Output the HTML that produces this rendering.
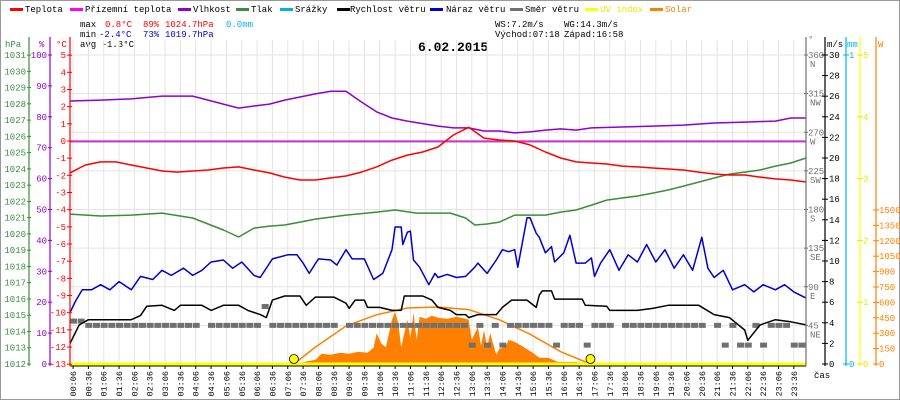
<!DOCTYPE html>
<html><head><meta charset="utf-8">
<style>
html,body{margin:0;padding:0;background:#fff;}
svg{display:block;font-family:"Liberation Mono",monospace;font-size:9px;}
</style></head>
<body>
<svg id="chart" width="900" height="400" viewBox="0 0 900 400" xmlns="http://www.w3.org/2000/svg">
<rect x="0.5" y="0.5" width="899" height="399" fill="#fff" stroke="#999"/>
<g>
 <g><rect x="10" y="8" width="13" height="3" fill="#ff0000"/><text x="25" y="12">Teplota</text></g>
 <g><rect x="70" y="8" width="13" height="3" fill="#ff00ff"/><text x="85" y="12">Přízemní teplota</text></g>
 <g><rect x="178" y="8" width="13" height="3" fill="#9000d0"/><text x="193" y="12">Vlhkost</text></g>
 <g><rect x="236" y="8" width="13" height="3" fill="#3a8e3a"/><text x="251" y="12">Tlak</text></g>
 <g><rect x="280" y="8" width="13" height="3" fill="#00b0f0"/><text x="295" y="12">Srážky</text></g>
 <g><rect x="337" y="8" width="13" height="3" fill="#000"/><text x="350" y="12">Rychlost větru</text></g>
 <g><rect x="430" y="8" width="13" height="3" fill="#0000d0"/><text x="446" y="12">Náraz větru</text></g>
 <g><rect x="510" y="8" width="13" height="3" fill="#707070"/><text x="525" y="12">Směr větru</text></g>
 <g><rect x="585" y="8" width="13" height="3" fill="#ffff00"/><text x="600" y="12" fill="#e8e800">UV index</text></g>
 <g><rect x="650" y="8" width="13" height="3" fill="#ff8000"/><text x="665" y="12" fill="#ff8000">Solar</text></g>
</g>
<g>
 <text x="80" y="27">max</text><text x="105" y="27" fill="#ff0000">0.8°C</text><text x="143" y="27" fill="#ff0000">89%</text><text x="165" y="27" fill="#ff0000">1024.7hPa</text><text x="226" y="27" fill="#00b0f0">0.0mm</text>
 <text x="80" y="37">min</text><text x="99" y="37" fill="#0000d0">-2.4°C</text><text x="143" y="37" fill="#0000d0">73%</text><text x="165" y="37" fill="#0000d0">1019.7hPa</text>
 <text x="80" y="47">avg -1.3°C</text>
 <text x="495" y="27">WS:7.2m/s</text><text x="564" y="27">WG:14.3m/s</text>
 <text x="495" y="37">Východ:07:18</text><text x="564" y="37">Západ:16:58</text>
</g>
<text x="418" y="51" font-family="Liberation Mono, monospace" font-weight="bold" font-size="13">6.02.2015</text>
<g id="grid"></g>
<g id="plot"></g>
<g id="axes"></g>
</svg>
<script>
// ---- data ----
const tempHours = [0,0.5,1,1.5,2,2.5,3,3.5,4,4.5,5,5.5,6,6.5,7,7.5,8,8.5,9,9.5,10,10.5,11,11.5,12,12.5,13,13.5,14,14.5,15,15.5,16,16.5,17,17.5,18,18.5,19,19.5,20,20.5,21,21.5,22,22.5,23,23.5,24];
const tempValues = [-1.86,-1.40,-1.22,-1.22,-1.40,-1.57,-1.75,-1.81,-1.75,-1.69,-1.57,-1.51,-1.69,-1.86,-2.10,-2.27,-2.27,-2.15,-2.04,-1.81,-1.51,-1.11,-0.82,-0.64,-0.35,0.35,0.8,0.17,0.06,0,-0.23,-0.64,-0.99,-1.22,-1.28,-1.34,-1.46,-1.51,-1.57,-1.63,-1.69,-1.81,-1.92,-1.98,-1.98,-2.10,-2.21,-2.27,-2.39];
const apparentHours = [0,24];
const apparentValues = [0,0];
const humHours = [0,1,2,3,4,5,5.5,6,6.5,7,7.5,8,8.5,9,9.5,10,10.5,11,12,12.5,13,13.5,14,14.5,15,15.5,16,16.5,17,18,19,20,21,22,23,23.5,24];
const humValues = [85.1,85.4,85.8,86.7,86.7,84.1,82.8,83.5,84.1,85.4,86.4,87.4,88.3,88.3,84.8,81.6,79.6,78.6,77.0,76.4,76.4,75.4,75.4,74.8,75.1,75.7,76.1,75.7,76.4,76.7,77.0,77.3,78.0,78.3,78.6,79.6,79.6];
const presHours = [0,1,2,3,4,5,5.5,6,6.5,7,7.5,8,9,10,10.6,11.3,12.4,12.9,13.2,13.6,14,14.5,15,15.5,16,16.5,17,17.5,18,18.5,19,19.5,20,20.5,21,21.5,22,22.5,23,23.5,24];
const presValues = [1021.22,1021.10,1021.16,1021.28,1020.98,1020.24,1019.81,1020.36,1020.48,1020.55,1020.73,1020.91,1021.16,1021.34,1021.47,1021.28,1021.28,1020.98,1020.55,1020.61,1020.73,1021.16,1021.16,1021.16,1021.34,1021.47,1021.77,1022.08,1022.21,1022.33,1022.51,1022.70,1022.94,1023.19,1023.44,1023.68,1023.80,1023.93,1024.17,1024.36,1024.67];
const gustHours = [0,0.2,0.4,0.7,1,1.3,1.6,2,2.3,2.7,3,3.3,3.7,4,4.3,4.6,5,5.3,5.6,6,6.2,6.6,7.1,7.4,7.6,7.8,8.1,8.5,8.7,9,9.2,9.6,9.9,10.2,10.5,10.6,10.8,10.85,11,11.1,11.2,11.4,11.7,11.9,12,12.3,12.6,12.9,13.2,13.3,13.6,13.9,14.1,14.3,14.5,14.6,14.9,15,15.2,15.3,15.5,15.7,15.8,16.1,16.3,16.5,16.8,17,17.1,17.3,17.6,17.9,18.2,18.5,18.8,19.1,19.4,19.7,20,20.3,20.6,20.8,21,21.3,21.6,22,22.3,22.6,23,23.3,23.6,24];
const gustValues = [5.0,6.2,7.2,7.2,7.7,7.2,8.0,7.2,8.5,8.2,9.1,8.6,9.3,8.6,9.1,9.9,10.1,9.3,9.9,8.6,8.4,10.2,10.6,10.6,9.8,8.8,10.2,10.1,9.6,11.1,10.2,10.2,8.2,8.8,11.1,13.3,13.3,11.6,12.8,12.9,10.1,9.4,7.7,8.8,8.4,8.7,8.4,8.5,9.4,9.8,8.8,10.1,11.1,10.9,11.1,9.4,14.2,14.2,12.7,12.3,10.8,11.4,9.9,10.8,12.5,9.8,9.8,10.3,8.5,9.8,11.1,9.1,10.6,9.9,11.6,9.9,11.1,9.3,10.6,9.1,12.3,9.3,8.4,9.1,7.2,7.7,7.0,7.7,7.2,7.7,7.0,6.4];
const windHours = [0,0.3,0.6,2,2.3,2.5,3,3.4,3.6,4.3,4.6,5,5.5,5.8,6.0,6.2,6.4,6.6,7.0,7.5,7.7,8.0,8.6,9.0,9.1,9.3,9.6,9.7,10.1,10.5,10.8,10.9,11.5,11.8,12.0,12.4,12.6,12.9,13.0,13.3,13.9,14.1,14.4,14.9,15.2,15.3,15.4,15.7,15.8,16.7,16.8,17.5,17.6,18.5,19,19.5,20.5,21,21.5,22,22.1,22.5,23,23.5,24];
const windValues = [2.0,3.8,4.3,4.3,4.7,5.6,5.7,5.2,5.7,5.7,5.2,5.7,5.7,5.2,5.0,4.8,4.5,6.2,6.6,6.6,5.7,6.5,6.5,5.9,5.4,6.2,6.2,5.5,5.5,5.2,5.2,6.6,6.6,6.2,5.5,5.2,4.8,4.8,4.5,4.8,4.8,5.5,6.2,6.2,5.5,6.7,7.1,7.1,6.3,6.3,5.7,5.6,5.2,5.2,5.4,5.7,5.7,4.8,4.5,3.3,2.3,3.8,4.3,4.1,3.8];
const dirValues = [50,50,45,45,45,45,45,45, 45,45,45,45,45,45,45,45, 45,null,45,45,45,45,45,45, 45,67,45,45,45,45,45,45, 45,45,45,null,45,45,45,45, 45,45,45,45,45,45,45,45, 45,45,45,45,22,45,22,45, 22,45,45,45,45,45,45,22, 45,45,45,22,45,45,45,null, 45,45,45,45,45,45,45,45, 45,45,45,null,45,22,45,22, 22,45,22,45,45,45,22,22];
const solarHours = [7.3,7.5,7.8,8.0,8.2,8.5,8.8,9.1,9.4,9.7,9.9,10.0,10.15,10.3,10.5,10.6,10.7,10.8,10.9,11.0,11.1,11.2,11.3,11.4,11.6,11.8,12.0,12.3,12.6,12.9,13.0,13.1,13.3,13.4,13.5,13.6,13.7,13.9,14.0,14.2,14.3,14.5,14.8,15.1,15.3,15.6,15.9,16.5,16.9];
const solarValues = [0,10,30,40,100,90,110,100,120,110,160,300,200,165,430,510,400,165,300,430,250,500,235,460,440,470,450,440,460,440,430,235,360,180,330,165,300,90,150,165,235,215,165,107,60,60,20,20,0];
const solarMaxHours = [7.3,8,9,10,11,12,13,14,15,16,16.97];
const solarMaxValues = [0,165,370,480,545,555,530,430,290,120,0];
const uvHours = [0,24];
const uvValues = [0,0];
const sunEvents = [7.3,16.97];
const hpaTicks = [1012,1013,1014,1015,1016,1017,1018,1019,1020,1021,1022,1023,1024,1025,1026,1027,1028,1029,1030,1031];
const humTicks = [0,10,20,30,40,50,60,70,80,90,100];
const tempTicks = [-13,-12,-11,-10,-9,-8,-7,-6,-5,-4,-3,-2,-1,0,1,2,3,4,5];
const dirTicks = [45,90,135,180,225,270,315,360];
const dirNames = ['NE','E','SE','S','SW','W','NW','N'];
const msTicks = [0,2,4,6,8,10,12,14,16,18,20,22,24,26,28,30];
const mmTicks = [0,1];
const uvTicks = [0,1,2,3,4,5];
const wTicks = [0,150,300,450,600,750,900,1050,1200,1350,1500];

// ---- scales ----
const NS = 'http://www.w3.org/2000/svg';
const X = h => 70 + h * 30.67;
const yT = t => 141 - t * 17.17;
const yH = v => 364 - v * 3.09;
const yP = p => 364 - (p - 1012) * 16.26;
const yW = v => 364 - v * 10.3;
const yD = d => 364 - d * 309 / 360;
const yS = w => 364 - w * 0.1027;
const yU = u => 364 - u * 61.8;
const yM = m => 364 - m * 309;

function mk(tag, a) { const e = document.createElementNS(NS, tag); for (const k in a) e.setAttribute(k, a[k]); return e; }
const grid = document.getElementById('grid');
const plot = document.getElementById('plot');
const axes = document.getElementById('axes');
function pts(hs, vs, yf) { return hs.map((h, i) => X(h).toFixed(1) + ',' + yf(vs[i]).toFixed(1)).join(' '); }
function txt(parent, x, y, s, fill, anchor) {
  const t = mk('text', {x: x, y: y, fill: fill || '#000', 'text-anchor': anchor || 'start'});
  t.textContent = s;
  parent.appendChild(t);
  return t;
}

// grid
for (let k = 0; k < 48; k++) {
  const h = 0.1 + k * 0.5;
  const l = mk('line', {x1: X(h), y1: 40, x2: X(h), y2: 364, stroke: '#e6e2e2', 'stroke-width': 1});
  
  
  grid.appendChild(l);
}
dirTicks.forEach(d => {
  const l = mk('line', {x1: 70, y1: yD(d), x2: 806, y2: yD(d), stroke: '#e6e2e2', 'stroke-width': 1});
  
  
  grid.appendChild(l);
});
const zl = mk('line', {x1: 70, y1: yT(0) + 1, x2: 806, y2: yT(0) + 1, stroke: '#808080', 'stroke-width': 1});


grid.appendChild(zl);

// solar area
const sa = mk('polygon', {points: X(solarHours[0]) + ',364 ' + pts(solarHours, solarValues, yS) + ' ' + X(solarHours[solarHours.length - 1]) + ',364', fill: '#ff8000'});


plot.appendChild(sa);
const sm = mk('polyline', {points: pts(solarMaxHours, solarMaxValues, yS), fill: 'none', stroke: '#ff8000', 'stroke-width': 1.5});


plot.appendChild(sm);

// wind direction
dirValues.forEach((d, i) => {
  if (d === null) return;
  const r = mk('rect', {x: X(i * 0.25), y: yD(d) - 2.5, width: 7, height: 5, fill: '#707070'});
  
  
  plot.appendChild(r);
});

function line(hs, vs, yf, color, name, w) {
  const p = mk('polyline', {points: pts(hs, vs, yf), fill: 'none', stroke: color, 'stroke-width': w || 1.5, 'stroke-linejoin': 'round'});
  
  
  plot.appendChild(p);
}
line(apparentHours, apparentValues, yT, '#ff00ff', 'apparent-temperature-line', 1.2);
line(humHours, humValues, yH, '#9000d0', 'humidity-line');
line(presHours, presValues, yP, '#3a8e3a', 'pressure-line');
line(tempHours, tempValues, yT, '#ff0000', 'temperature-line');
line(gustHours, gustValues, yW, '#0000d0', 'wind-gust-line');
line(windHours, windValues, yW, '#000000', 'wind-speed-line');
line(uvHours, uvValues, yU, '#ffff00', 'uv-index-line', 3);

sunEvents.forEach(h => {
  const c = mk('circle', {cx: X(h), cy: 359, r: 4.5, fill: '#ffff00', stroke: '#000', 'stroke-width': 0.8});
  
  
  plot.appendChild(c);
});

// x axis
const xa = mk('line', {x1: 70, y1: 366, x2: 806, y2: 366, stroke: '#000', 'stroke-width': 1});


axes.appendChild(xa);
for (let k = 0; k < 48; k++) {
  const h = 0.1 + k * 0.5;
  const mins = Math.round(h * 60);
  const lab = String(Math.floor(mins / 60)).padStart(2, '0') + ':' + String(mins % 60).padStart(2, '0');
  const tk = mk('line', {x1: X(h), y1: 366, x2: X(h), y2: 369, stroke: '#000'});
  
  
  axes.appendChild(tk);
  const t = mk('text', {x: 0, y: 0, 'text-anchor': 'end', transform: 'translate(' + (X(h) + 3) + ',371) rotate(-90)', 'font-size': 8.5});
  t.textContent = lab;
  
  
  axes.appendChild(t);
}
const cas = txt(axes, 814, 378, 'čas');



function vaxis(x, color, name) {
  const l = mk('line', {x1: x, y1: 37, x2: x, y2: 366, stroke: color, 'stroke-width': 1.2});
  
  
  axes.appendChild(l);
}
function tick(x1, x2, y, color) {
  const l = mk('line', {x1: x1, y1: y, x2: x2, y2: y, stroke: color});
  
  
  axes.appendChild(l);
}
// left axes
vaxis(29, '#3a8e3a', 'pressure-axis');
vaxis(50, '#9000d0', 'humidity-axis');
vaxis(70, '#ff0000', 'temperature-axis');
hpaTicks.forEach(p => {
  tick(27, 31, yP(p), '#3a8e3a');
  const t = txt(axes, 26, yP(p) + 3, String(p), '#3a8e3a', 'end');
  
  
});
humTicks.forEach(v => {
  tick(48, 52, yH(v), '#9000d0');
  const t = txt(axes, 47, yH(v) + 3, String(v), '#9000d0', 'end');
  
  
});
tempTicks.forEach(v => {
  tick(67, 72, yT(v), '#ff0000');
  const t = txt(axes, 66, yT(v) + 3, String(v), '#ff0000', 'end');
  
  
});
let u;
u = txt(axes, 5, 47, 'hPa', '#3a8e3a');


u = txt(axes, 39, 47, '%', '#9000d0');


u = txt(axes, 56, 47, '°C', '#ff0000');



// right axes
vaxis(806, '#707070', 'direction-axis');
vaxis(825, '#000000', 'wind-speed-axis');
vaxis(846, '#00b0f0', 'rain-axis');
vaxis(860, '#ffff00', 'uv-axis');
vaxis(876, '#ff8000', 'solar-axis');
dirTicks.forEach((d, i) => {
  tick(804, 808, yD(d), '#707070');
  const t = txt(axes, 808, yD(d) + 3, String(d), '#707070');
  
  
  const n = txt(axes, 810, yD(d) + 12, dirNames[i], '#707070');
  
  
});
msTicks.forEach(v => {
  tick(822, 828, yW(v), '#000');
  const t = txt(axes, 829, yW(v) + 3, String(v), '#000');
  
  
});
mmTicks.forEach(v => {
  tick(843, 849, yM(v), '#00b0f0');
  const t = txt(axes, 849, yM(v) + 3, String(v), '#00b0f0');
  
  
});
uvTicks.forEach(v => {
  tick(857, 863, yU(v), '#e8e800');
  const t = txt(axes, 863, yU(v) + 3, String(v), '#e8e800');
  
  
});
wTicks.forEach(v => {
  tick(873, 879, yS(v), '#ff8000');
  const t = txt(axes, 879, yS(v) + 3, String(v), '#ff8000');
  
  
});
u = txt(axes, 808, 42, '°', '#707070');


u = txt(axes, 827, 47, 'm/s', '#000');


u = txt(axes, 847, 47, 'mm', '#00b0f0');


u = txt(axes, 878, 47, 'W', '#ff8000');


</script>
</body></html>
